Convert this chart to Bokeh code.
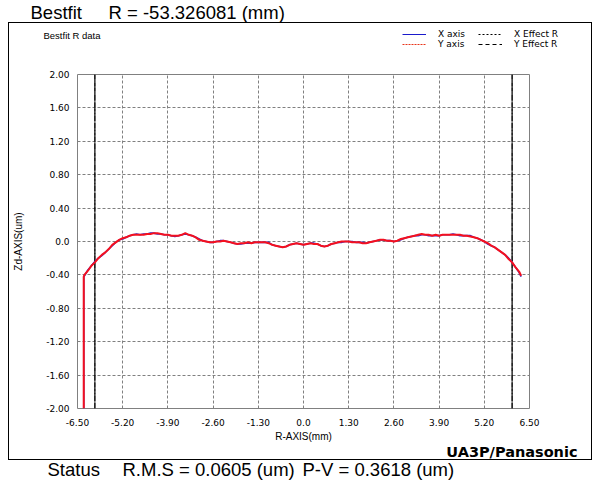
from bokeh.plotting import figure
from bokeh.layouts import column
from bokeh.models import (FixedTicker, Legend, LegendItem, Range1d, InlineStyleSheet, Label, Plot)
from bokeh.embed import file_html
from bokeh.resources import INLINE

# ---------------- data ----------------
r_pos = [-6.32, -6.32, -6.30, -6.20, -6.10, -6.00, -5.90, -5.80, -5.70, -5.60, -5.50,
         -5.40, -5.30, -5.20, -5.10, -5.00, -4.90, -4.80, -4.70, -4.60, -4.50,
         -4.40, -4.30, -4.20, -4.10, -4.00, -3.90, -3.80, -3.70, -3.60, -3.50,
         -3.40, -3.30, -3.20, -3.10, -3.00, -2.90, -2.80, -2.70, -2.60, -2.50,
         -2.40, -2.30, -2.20, -2.10, -2.00, -1.90, -1.80, -1.70, -1.60, -1.50,
         -1.40, -1.30, -1.20, -1.10, -1.00, -0.90, -0.80, -0.70, -0.60, -0.50,
         -0.40, -0.30, -0.20, -0.10, 0.00, 0.10, 0.20, 0.30, 0.40, 0.50,
         0.60, 0.70, 0.80, 0.90, 1.00, 1.10, 1.20, 1.30, 1.40, 1.50,
         1.60, 1.70, 1.80, 1.90, 2.00, 2.10, 2.20, 2.30, 2.40, 2.50,
         2.60, 2.70, 2.80, 2.90, 3.00, 3.10, 3.20, 3.30, 3.40, 3.50,
         3.60, 3.70, 3.80, 3.90, 4.00, 4.10, 4.20, 4.30, 4.40, 4.50,
         4.60, 4.70, 4.80, 4.90, 5.00, 5.10, 5.20, 5.30, 5.40, 5.50,
         5.60, 5.70, 5.80, 5.90, 6.00, 6.10, 6.20, 6.26]

x_axis_zd = [-2.00, -0.42, -0.41, -0.34, -0.29, -0.24, -0.20, -0.17, -0.13, -0.09, -0.05,
             -0.01, 0.02, 0.03, 0.05, 0.07, 0.08, 0.09, 0.08, 0.09, 0.09,
             0.10, 0.10, 0.09, 0.09, 0.08, 0.08, 0.07, 0.06, 0.07, 0.08,
             0.09, 0.08, 0.07, 0.05, 0.03, 0.01, 0.00, -0.01, -0.01, 0.00,
             0.01, 0.01, 0.00, -0.01, -0.02, -0.03, -0.03, -0.02, -0.02, -0.02,
             -0.01, -0.01, -0.01, -0.01, -0.01, -0.04, -0.05, -0.06, -0.07, -0.06,
             -0.04, -0.03, -0.02, -0.03, -0.04, -0.03, -0.02, -0.02, -0.03, -0.05,
             -0.06, -0.05, -0.03, -0.02, -0.01, -0.01, 0.00, 0.00, 0.00, -0.01,
             -0.01, -0.01, -0.02, -0.01, 0.00, 0.01, 0.02, 0.02, 0.01, 0.01,
             0.00, 0.01, 0.02, 0.04, 0.05, 0.06, 0.07, 0.07, 0.08, 0.08,
             0.07, 0.07, 0.07, 0.07, 0.08, 0.08, 0.08, 0.09, 0.08, 0.07,
             0.07, 0.07, 0.07, 0.05, 0.04, 0.02, 0.00, -0.03, -0.05, -0.07,
             -0.10, -0.13, -0.16, -0.20, -0.25, -0.31, -0.37, -0.42]

y_axis_zd = [-2.00, -0.42, -0.40, -0.35, -0.29, -0.25, -0.20, -0.16, -0.13, -0.09, -0.04,
             -0.01, 0.02, 0.04, 0.05, 0.07, 0.08, 0.08, 0.08, 0.08, 0.09,
             0.09, 0.10, 0.10, 0.09, 0.08, 0.08, 0.07, 0.07, 0.07, 0.08,
             0.10, 0.08, 0.07, 0.05, 0.02, 0.01, 0.00, -0.01, -0.01, 0.00,
             0.00, 0.01, 0.00, -0.01, -0.02, -0.03, -0.02, -0.02, -0.01, -0.02,
             -0.01, -0.01, -0.01, -0.01, -0.02, -0.04, -0.05, -0.06, -0.07, -0.06,
             -0.04, -0.03, -0.02, -0.03, -0.04, -0.03, -0.02, -0.03, -0.03, -0.05,
             -0.06, -0.05, -0.03, -0.02, -0.01, 0.00, 0.00, 0.00, -0.01, -0.01,
             -0.01, -0.02, -0.02, -0.01, 0.00, 0.01, 0.02, 0.02, 0.01, 0.01,
             0.00, 0.01, 0.03, 0.04, 0.05, 0.06, 0.07, 0.08, 0.09, 0.08,
             0.08, 0.07, 0.08, 0.07, 0.08, 0.08, 0.08, 0.08, 0.08, 0.08,
             0.07, 0.07, 0.06, 0.05, 0.04, 0.02, 0.00, -0.02, -0.05, -0.07,
             -0.10, -0.13, -0.16, -0.21, -0.25, -0.31, -0.36, -0.41]

effect_r = [-6.00, 6.00]

x_ticks = [-6.5, -5.2, -3.9, -2.6, -1.3, 0.0, 1.3, 2.6, 3.9, 5.2, 6.5]
x_tick_labels = ["-6.50", "-5.20", "-3.90", "-2.60", "-1.30", "0.0", "1.30", "2.60", "3.90", "5.20", "6.50"]
y_ticks = [2.0, 1.6, 1.2, 0.8, 0.4, 0.0, -0.4, -0.8, -1.2, -1.6, -2.0]
y_tick_labels = ["2.00", "1.60", "1.20", "0.80", "0.40", "0.0", "-0.40", "-0.80", "-1.20", "-1.60", "-2.00"]
y_lo, y_hi = -2.0, 2.0

X_COLOR, Y_COLOR = "#2a2ad0", "#f5101e"

W = 604
TOP_H, MID_H, BOT_H = 60, 384, 41     # three stacked strips (0-60, 60-444, 444-485)
HAS_FRAME_ALIGN = "frame_align" in Plot.properties()


def strip(height):
    f = figure(width=W, height=height, output_backend="svg", toolbar_location=None,
               x_axis_type=None, y_axis_type=None, x_range=Range1d(0, 1), y_range=Range1d(0, 1),
               min_border_left=0, min_border_right=0, min_border_top=0, min_border_bottom=0)
    f.outline_line_color = None
    f.background_fill_color = None
    f.border_fill_color = None
    if HAS_FRAME_ALIGN:
        f.frame_align = False
    return f


def label(f, fh, text, cx, mid_y, size, font="Liberation Sans", align="left", style="normal"):
    # mid_y: vertical middle of the text, in pixels from the strip's top
    f.add_layout(Label(x=cx, y=fh - mid_y, x_units="screen", y_units="screen", text=text,
                       text_font=font, text_font_size=size, text_align=align,
                       text_baseline="middle", text_font_style=style, text_color="black"))


# ---------------- top strip: title, caption, legend ----------------
top = strip(TOP_H)
label(top, TOP_H, "Bestfit", 30, 12, "18.5px")
label(top, TOP_H, "R = -53.326081 (mm)", 108, 12, "18.5px")
label(top, TOP_H, "Bestfit R data", 43, 35, "9.5px")

# legend sample renderers (a single point each: nothing is drawn in the strip itself)
lx = top.line([0], [0], line_color="#1a1acc", line_width=1)
ly = top.line([0], [0], line_color="#e8341a", line_width=1, line_dash="2 1")
lex = top.line([0], [0], line_color="black", line_width=1, line_dash="2 2")
ley = top.line([0], [0], line_color="black", line_width=1, line_dash="4 3")
legend = Legend(items=[LegendItem(label="X axis", renderers=[lx]),
                       LegendItem(label="X Effect R", renderers=[lex]),
                       LegendItem(label="Y axis", renderers=[ly]),
                       LegendItem(label="Y Effect R", renderers=[ley])],
                orientation="horizontal", ncols=2, location=(402, TOP_H - 49),
                glyph_width=24, glyph_height=10, label_height=10, label_width=40,
                label_standoff=12, spacing=0, padding=0, margin=0,
                label_text_font="DejaVu Sans", label_text_font_size="9px",
                label_text_color="black", border_line_color=None, background_fill_alpha=0)
top.add_layout(legend, "center")

# ---------------- middle: the chart ----------------
p = figure(width=W, height=MID_H, output_backend="svg", toolbar_location=None,
           x_range=Range1d(x_ticks[0], x_ticks[-1]), y_range=Range1d(y_lo, y_hi),
           min_border_left=77, min_border_right=75, min_border_top=14, min_border_bottom=36)
p.outline_line_color = "#808080"
p.outline_line_width = 1
p.background_fill_color = "white"
p.border_fill_color = None

p.xaxis.ticker = FixedTicker(ticks=x_ticks)
p.yaxis.ticker = FixedTicker(ticks=y_ticks)
p.xaxis.major_label_overrides = {t: l for t, l in zip(x_ticks, x_tick_labels)}
p.yaxis.major_label_overrides = {t: l for t, l in zip(y_ticks, y_tick_labels)}
for ax in (p.xaxis[0], p.yaxis[0]):
    ax.axis_line_color = None
    ax.major_tick_line_color = None
    ax.minor_tick_line_color = None
    ax.major_tick_out = 0
    ax.major_tick_in = 0
    ax.major_label_text_font = "DejaVu Sans"
    ax.major_label_text_font_size = "9px"
    ax.major_label_text_color = "#000000"
    ax.axis_label_text_font = "Liberation Sans"
    ax.axis_label_text_font_size = "10px"
    ax.axis_label_text_font_style = "normal"
    ax.axis_label_text_color = "#000000"
p.xaxis.major_label_standoff = 10
p.yaxis.major_label_standoff = 8
p.xaxis.axis_label = "R-AXIS(mm)"
p.yaxis.axis_label = "Zd-AXIS(um)"
p.xaxis.axis_label_standoff = 2
p.yaxis.axis_label_standoff = 19

for g in (p.xgrid[0], p.ygrid[0]):
    g.grid_line_color = "#808080"
    g.grid_line_dash = "3 2"
    g.grid_line_width = 1

p.segment(x0=effect_r, y0=[y_lo] * 2, x1=effect_r, y1=[y_hi] * 2,
          line_color="black", line_width=1, line_dash="6 1")
p.segment(x0=effect_r, y0=[y_lo] * 2, x1=effect_r, y1=[y_hi] * 2,
          line_color="black", line_width=1, line_dash="9 1", line_dash_offset=3)

p.line(r_pos, x_axis_zd, line_color=X_COLOR, line_width=1.6)
p.line(r_pos, y_axis_zd, line_color=Y_COLOR, line_width=2.0)

# ---------------- bottom strip: maker tag and status ----------------
bot = strip(BOT_H)
label(bot, BOT_H, "UA3P/Panasonic", 577, 7, "14.5px", font="DejaVu Sans", align="right", style="bold")
label(bot, BOT_H, "Status", 47, 25, "18.5px")
label(bot, BOT_H, "R.M.S = 0.0605 (um)", 122, 25, "18.5px")
label(bot, BOT_H, "P-V = 0.3618 (um)", 302, 25, "18.5px")

# ---------------- page: outer black box behind the transparent strips ----------------
box_css = (":host { background: "
           "linear-gradient(#000,#000) 8px 22px / 584px 1px no-repeat, "
           "linear-gradient(#000,#000) 8px 459px / 584px 1px no-repeat, "
           "linear-gradient(#000,#000) 8px 22px / 1px 438px no-repeat, "
           "linear-gradient(#000,#000) 591px 22px / 1px 438px no-repeat, "
           "#ffffff; }")
page = column(top, p, bot, spacing=0)
page.stylesheets = [InlineStyleSheet(css=box_css)]

open("out.html", "w").write(file_html(page, INLINE))
